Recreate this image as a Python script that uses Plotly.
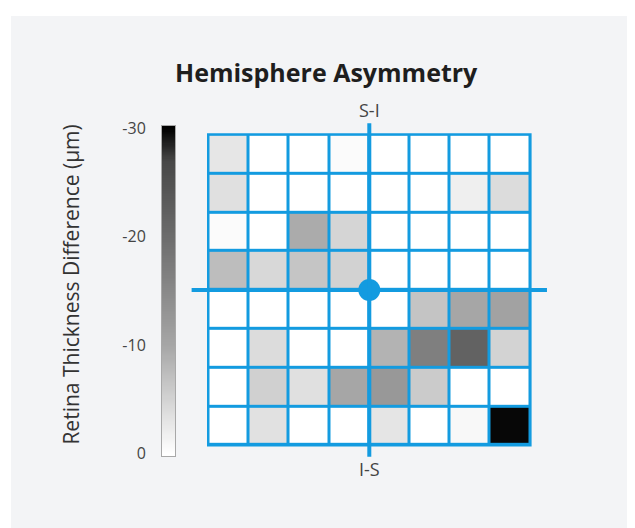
import numpy as np
import plotly.graph_objects as go

# ---- data -------------------------------------------------------------
title_text = "Hemisphere Asymmetry"
cbar_title = "Retina Thickness Difference (µm)"
top_label = "S-I"
bottom_label = "I-S"
cols = [0, 1, 2, 3, 4, 5, 6, 7]
rows = [0, 1, 2, 3, 4, 5, 6, 7]
# thickness difference per cell (µm), rows from top to bottom
diff_values = [
    [-2.8, 0.0, 0.0, -0.5, 0.0, 0.0, 0.0, 0.0],
    [-3.5, 0.0, 0.0, 0.0, 0.0, 0.0, -1.8, -3.9],
    [-0.4, 0.0, -9.4, -4.7, 0.0, 0.0, 0.0, 0.0],
    [-7.4, -4.4, -6.5, -5.1, 0.0, 0.0, 0.0, 0.0],
    [0.0, 0.0, 0.0, 0.0, 0.0, -6.6, -10.0, -10.7],
    [0.0, -3.9, 0.0, 0.0, -8.5, -16.7, -21.9, -4.9],
    [0.0, -5.3, -3.5, -10.0, -12.4, -5.8, 0.0, 0.0],
    [0.0, -3.4, 0.0, 0.0, -2.9, 0.0, -0.8, -29.7],
]
cbar_tickvals = [0, 10, 20, 30]
cbar_ticktext = ["0", "-10", "-20", "-30"]
z_max = 30

# ---- style ------------------------------------------------------------
W, H = 635, 528
OFF = 8  # page offset of the figure inside the browser window
BLUE = "#139be0"
BG = "#f3f4f6"
FONT = "Open Sans"
colorscale = [
    [0.0, "#ffffff"],
    [0.333, "#a6a6a6"],
    [0.667, "#6c6c6c"],
    [0.9, "#474747"],
    [1.0, "#000000"],
]


def fx(px):
    return (px - OFF) / W


def fy(px):
    return 1 - (px - OFF) / H


magnitude = [[-v for v in r] for r in diff_values]
n = len(cols)
center = (n - 1) / 2

# pixel geometry of the grid (screen pixels)
px_x, px_y = 40.2, 40.0
x_rng = [-1.0, n]
y_rng = [n, -1.0]
left_px = 369.3 - (center - x_rng[0]) * px_x
right_px = left_px + (x_rng[1] - x_rng[0]) * px_x
top_px = 290.5 - (center - y_rng[1]) * px_y
bot_px = top_px + (y_rng[0] - y_rng[1]) * px_y

fig = go.Figure()

fig.add_trace(go.Heatmap(
    z=magnitude, x=cols, y=rows,
    colorscale=colorscale, zmin=0, zmax=z_max,
    xgap=3, ygap=3, showscale=False, hoverinfo="skip",
    xaxis="x", yaxis="y",
))

# crosshair centre dot
fig.add_trace(go.Scatter(
    x=[center], y=[center], mode="markers",
    marker=dict(size=22, color=BLUE), cliponaxis=False,
    hoverinfo="skip", showlegend=False, xaxis="x", yaxis="y",
))

# colour bar drawn as its own axis
cb_rng = [-0.27, z_max + 0.27]
grad_y = np.linspace(cb_rng[0], cb_rng[1], 307)
grad_z = np.clip(grad_y, 0, z_max)
fig.add_trace(go.Heatmap(
    z=[[g] for g in grad_z], x=[0], y=grad_y,
    colorscale=colorscale, zmin=0, zmax=z_max,
    showscale=False, hoverinfo="skip", xaxis="x2", yaxis="y2",
))

d = 1.5 / px_x
shapes = [
    dict(type="rect", xref="paper", yref="paper", x0=fx(11), x1=1, y0=0, y1=1,
         fillcolor=BG, line=dict(width=0), layer="below"),
    dict(type="rect", xref="x", yref="y", x0=-0.5 - d, x1=n - 0.5 + d,
         y0=-0.5 - 1.5 / px_y, y1=n - 0.5 + 1.5 / px_y,
         fillcolor=BLUE, line=dict(width=0), layer="below"),
    dict(type="line", xref="x", yref="y", x0=center, x1=center, y0=-0.8, y1=n - 0.2,
         line=dict(color=BLUE, width=4), layer="above"),
    dict(type="line", xref="x", yref="y", x0=-0.92, x1=n - 0.08, y0=center, y1=center,
         line=dict(color=BLUE, width=4), layer="above"),
]

fig.update_layout(
    width=W, height=H, autosize=False,
    margin=dict(l=0, r=0, t=0, b=0),
    paper_bgcolor="white", plot_bgcolor="rgba(0,0,0,0)",
    font=dict(family=FONT, color="#444444"),
    showlegend=False,
    shapes=shapes,
    xaxis=dict(domain=[fx(left_px), fx(right_px)], range=x_rng, visible=False,
               fixedrange=True),
    yaxis=dict(domain=[fy(bot_px), fy(top_px)], range=y_rng, visible=False,
               fixedrange=True),
    xaxis2=dict(domain=[fx(162), fx(175)], range=[-0.5, 0.5], anchor="y2",
                showticklabels=False, ticks="", showgrid=False, zeroline=False,
                showline=True, mirror=True, linecolor="#a8a8a8", linewidth=1),
    yaxis2=dict(domain=[fy(462), fy(121)], range=cb_rng, anchor="x2",
                tickvals=cbar_tickvals, ticktext=cbar_ticktext, ticks="",
                showgrid=False, zeroline=False, side="left",
                showline=True, mirror=True, linecolor="#a8a8a8", linewidth=1,
                ticklabelstandoff=12,
                tickfont=dict(size=16, color="#444444", family=FONT)),
    annotations=[
        dict(text="<b>" + title_text + "</b>", xref="paper", yref="paper",
             x=fx(326), y=fy(66), xanchor="center", yanchor="middle",
             showarrow=False, font=dict(size=25, color="#1e1e1e", family=FONT)),
        dict(text=cbar_title, xref="paper", yref="paper", textangle=-90,
             x=fx(71), y=fy(285), xanchor="center", yanchor="middle",
             showarrow=False, font=dict(size=21, color="#333333", family=FONT)),
        dict(text=top_label, xref="x", yref="y domain", x=center, y=1,
             xanchor="center", yanchor="middle", yshift=5, showarrow=False,
             font=dict(size=18, color="#444444", family=FONT)),
        dict(text=bottom_label, xref="x", yref="y domain", x=center, y=0,
             xanchor="center", yanchor="middle", yshift=-5, showarrow=False,
             font=dict(size=18, color="#444444", family=FONT)),
    ],
)

fig.write_html("out.html")
